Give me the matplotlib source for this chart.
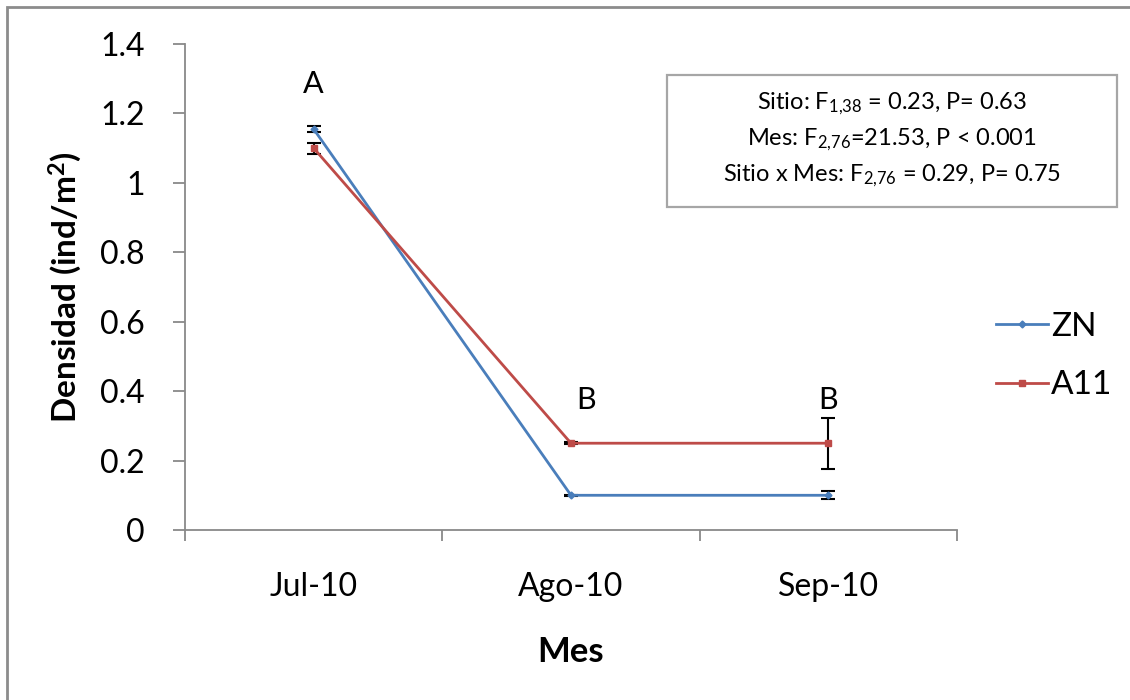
import matplotlib
matplotlib.use("Agg")
import matplotlib.pyplot as plt
from matplotlib.patches import Rectangle
from matplotlib.ticker import FixedLocator, NullFormatter

plt.rcParams['font.family'] = ['Lato', 'DejaVu Sans']
plt.rcParams['mathtext.fontset'] = 'custom'
plt.rcParams['mathtext.rm'] = 'Lato'
plt.rcParams['mathtext.it'] = 'Lato:italic'
plt.rcParams['mathtext.bf'] = 'Lato:bold'

# monthly density per site (mean and error)
months = ["Jul-10", "Ago-10", "Sep-10"]
zn_mean = [1.155, 0.10, 0.10]
zn_err = [0.009, 0.002, 0.012]
a11_mean = [1.10, 0.25, 0.25]
a11_err = [0.016, 0.003, 0.073]

y_ticks = [0, 0.2, 0.4, 0.6, 0.8, 1.0, 1.2, 1.4]
y_labels = ["0", "0.2", "0.4", "0.6", "0.8", "1", "1.2", "1.4"]

# group letters from the post-hoc test
group_letters = ["A", "B", "B"]
letter_x = [0, 1.06, 2.0]
letter_y = [1.285, 0.375, 0.375]

stats_lines = [
    r"Sitio: F$_{1{,}38}$ = 0.23, P= 0.63",
    r"Mes: F$_{2{,}76}$=21.53, P < 0.001",
    r"Sitio x Mes: F$_{2{,}76}$ = 0.29, P= 0.75",
]

W, H = 1130, 700
fig = plt.figure(figsize=(W / 100, H / 100), dpi=100)
ax = fig.add_axes([185 / W, 1 - 530 / H, (957 - 185) / W, (530 - 44) / H])

x = list(range(len(months)))
blue = "#4A7EBB"
red = "#BE4B48"
axis_grey = "#898989"

ax.errorbar(x, zn_mean, yerr=zn_err, fmt="none", ecolor="black",
            elinewidth=1.5, capsize=4.7, capthick=1.5, zorder=2)
ax.errorbar(x, a11_mean, yerr=a11_err, fmt="none", ecolor="black",
            elinewidth=1.5, capsize=4.7, capthick=1.5, zorder=2)
ln_zn, = ax.plot(x, zn_mean, color=blue, lw=2, marker="D", ms=3.5,
                 mec=blue, mfc=blue, label="ZN", zorder=3)
ln_a11, = ax.plot(x, a11_mean, color=red, lw=2, marker="s", ms=5,
                  mec=red, mfc=red, label="A11", zorder=3)

ax.set_xlim(-0.5, 2.5)
ax.set_ylim(0, 1.4)

# category boundaries carry the tick marks, labels sit at the centres
ax.xaxis.set_major_locator(FixedLocator([-0.5, 0.5, 1.5, 2.5]))
ax.xaxis.set_major_formatter(NullFormatter())
ax.xaxis.set_minor_locator(FixedLocator(x))
ax.set_xticklabels(months, minor=True)
ax.tick_params(axis="x", which="major", length=8, width=1.3, color=axis_grey,
               direction="out")
ax.tick_params(axis="x", which="minor", length=0, pad=30, labelsize=23)

ax.set_yticks(y_ticks)
ax.set_yticklabels(y_labels)
ax.tick_params(axis="y", length=9, width=1.3, color=axis_grey,
               direction="out", pad=20, labelsize=23)

for side in ["top", "right"]:
    ax.spines[side].set_visible(False)
for side in ["left", "bottom"]:
    ax.spines[side].set_color(axis_grey)
    ax.spines[side].set_linewidth(1.3)

ax.set_ylabel(r"Densidad (ind/m$\mathbf{^2}$)", fontsize=24, fontweight="bold")
ax.set_xlabel("Mes", fontsize=25, fontweight="bold")
ax.yaxis.set_label_coords(-0.155, 0.5)
ax.yaxis.label.set_va("center")
ax.xaxis.set_label_coords(0.5, -0.251)
ax.xaxis.label.set_va("center")

for lx, ly, letter in zip(letter_x, letter_y, group_letters):
    ax.text(lx, ly, letter, ha="center", va="center", fontsize=22)

# ANOVA summary box
fig.patches.append(Rectangle((667 / W, 1 - 207 / H), 450 / W, 132 / H,
                             transform=fig.transFigure, fill=False,
                             edgecolor="#a6a6a6", lw=1.6))
for i, line in enumerate(stats_lines):
    fig.text(892 / W, 1 - (104 + 36 * i) / H, line, ha="center",
             va="center", fontsize=17)

fig.legend(handles=[ln_zn, ln_a11], loc="center left",
           bbox_to_anchor=(996 / W, 1 - 356 / H), frameon=False,
           fontsize=24, handlelength=1.56, handletextpad=0.08,
           labelspacing=0.85, borderpad=0, borderaxespad=0)

# outer chart frame
fig.patches.append(Rectangle((7 / W, -0.05), 1.2, 1 - 7 / H + 0.05,
                             transform=fig.transFigure, fill=False,
                             edgecolor="#8c8c8c", lw=2))

fig.savefig("out.png", dpi=100)
